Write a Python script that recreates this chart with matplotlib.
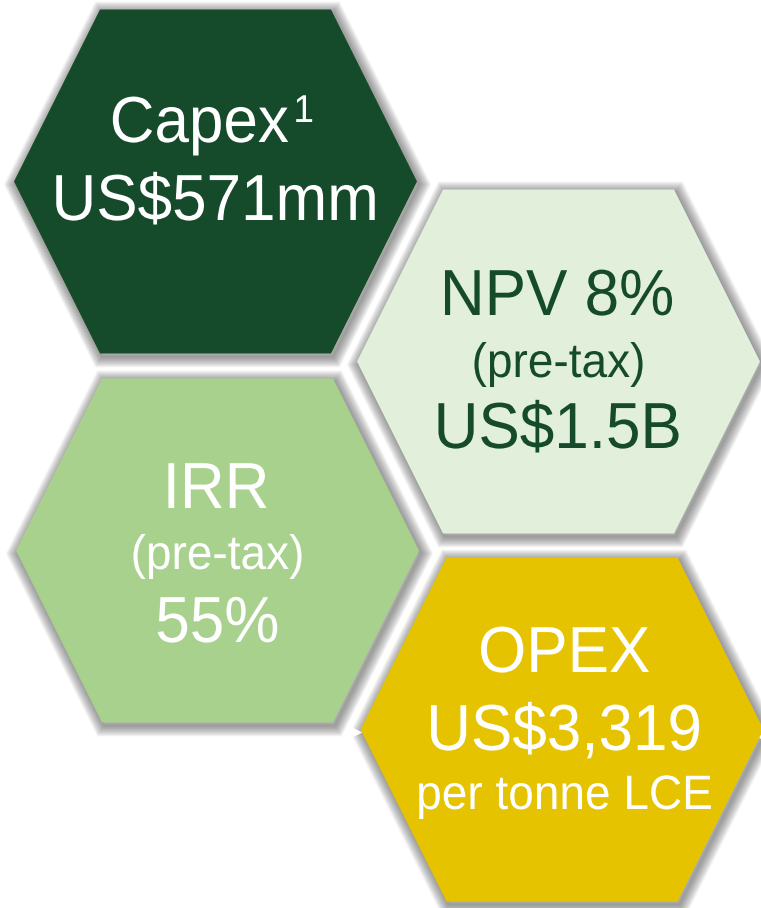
import matplotlib
matplotlib.use("Agg")
import matplotlib.pyplot as plt
from matplotlib.patches import Polygon, PathPatch
from matplotlib.textpath import TextPath
from matplotlib.font_manager import FontProperties
from matplotlib.transforms import Affine2D

# text of each hexagon, one list of lines per tile
capex_lines = ['Capex', 'US$571mm']
capex_note = '1'
npv_lines = ['NPV 8%', '(pre-tax)', 'US$1.5B']
irr_lines = ['IRR', '(pre-tax)', '55%']
opex_lines = ['OPEX', 'US$3,319', 'per tonne LCE']

# which lines are the small ones
capex_small = [False, False]
npv_small = [False, True, False]
irr_small = [False, True, False]
opex_small = [False, False, True]

fill_colors = ['#154b2a', '#e2efda', '#a9d18e', '#e6c300']
text_colors = ['white', '#154b2a', 'white', 'white']

FONT = FontProperties(family='Liberation Sans')
BIG = 62      # em size in px
SMALL = 46
NOTE = 37
STRETCH = 1.05  # text in the picture is a touch taller than wide


def hex_points(cx, cy, hw=201.5, hh=172, inset=86):
    return [(cx - hw, cy), (cx - hw + inset, cy - hh), (cx + hw - inset, cy - hh),
            (cx + hw, cy), (cx + hw - inset, cy + hh), (cx - hw + inset, cy + hh)]


def draw_hex(ax, cx, cy, color):
    # soft grey shadow, a bit down and right
    pts = hex_points(cx + 2, cy + 3)
    for k in range(12, 0, -1):
        ax.add_patch(Polygon(pts, closed=True, facecolor='none', edgecolor='#4a4a4a',
                             linewidth=k * 1.3, alpha=0.06, joinstyle='miter'))
    ax.add_patch(Polygon(hex_points(cx, cy), closed=True, facecolor=color,
                         edgecolor='none'))


def text_path(s, em):
    return TextPath((0, 0), s, size=em, prop=FONT)


def put_text(ax, path, x0, yb, color):
    # x0 is where the ink starts, yb the baseline (axes run downwards)
    ext = path.get_extents()
    tr = Affine2D().scale(1, -STRETCH).translate(x0 - ext.x0, yb)
    ax.add_patch(PathPatch(tr.transform_path(path), facecolor=color,
                           edgecolor='none', lw=0))


def put_centered(ax, s, cx, yb, em, color):
    p = text_path(s, em)
    ext = p.get_extents()
    put_text(ax, p, cx - ext.width / 2, yb, color)


fig = plt.figure(figsize=(7.61, 9.08), dpi=100)
ax = fig.add_axes([0, 0, 1, 1])
ax.set_xlim(0, 761)
ax.set_ylim(908, 0)
ax.axis('off')

tiles = [
    (215.5, 181.5, capex_lines, capex_small, [142, 220]),
    (558.5, 361.5, npv_lines, npv_small, [315, 377, 448]),
    (217.5, 550.5, irr_lines, irr_small, [508, 569, 642]),
    (562.0, 729.5, opex_lines, opex_small, [672, 750, 809]),
]

for i, (cx, cy, lines, small, baselines) in enumerate(tiles):
    draw_hex(ax, cx, cy, fill_colors[i])

for i, (cx, cy, lines, small, baselines) in enumerate(tiles):
    tx = cx + 3 if i == 3 else cx
    for j, (line, sm, yb) in enumerate(zip(lines, small, baselines)):
        em = SMALL if sm else BIG
        if i == 0 and j == 0:
            # Capex with its footnote mark
            p1 = text_path(line, em)
            p2 = text_path(capex_note, NOTE)
            gap = 8
            total = p1.get_extents().width + gap + p2.get_extents().width
            left = tx - 3 - total / 2
            put_text(ax, p1, left, yb, text_colors[i])
            put_text(ax, p2, left + p1.get_extents().width + gap, yb - 20,
                     text_colors[i])
        else:
            put_centered(ax, line, tx, yb, em, text_colors[i])

fig.savefig('out.png', dpi=100)
